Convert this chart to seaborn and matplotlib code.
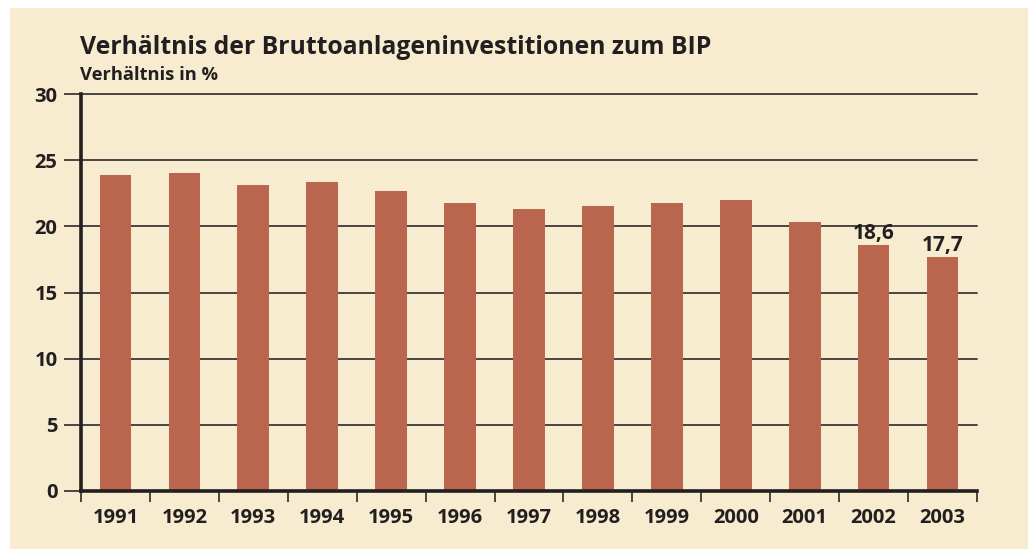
import numpy as np
import pandas as pd
import matplotlib.pyplot as plt
import seaborn as sns
from matplotlib.patches import Rectangle

# Chart data
years = ["1991", "1992", "1993", "1994", "1995", "1996", "1997",
         "1998", "1999", "2000", "2001", "2002", "2003"]
ratio = [23.9, 24.0, 23.1, 23.35, 22.7, 21.8, 21.3,
         21.5, 21.8, 22.0, 20.3, 18.6, 17.7]
labelled = {"2002": "18,6", "2003": "17,7"}
y_ticks = [0, 5, 10, 15, 20, 25, 30]

BG = "#F7ECCF"
BAR = "#BA654D"
INK = "#231F20"
GRID = "#4A4543"

sns.set_theme(style="white")
plt.rcParams['font.family'] = ['Open Sans', 'DejaVu Sans']

fig = plt.figure(figsize=(10.28, 5.49), dpi=100)
fig.patch.set_facecolor("white")
fig.patches.append(Rectangle((10 / 1028, 0), 1 - 10 / 1028, 1 - 8 / 549,
                             transform=fig.transFigure, facecolor=BG,
                             edgecolor="none", zorder=-10))

ax = fig.add_axes([81 / 1028, 1 - 491 / 549, (977 - 81) / 1028, (491 - 94) / 549])
ax.set_facecolor("none")

df = pd.DataFrame({"year": years, "ratio": ratio})
sns.barplot(data=df, x="year", y="ratio", color=BAR, width=0.46,
            saturation=1, linewidth=0, ax=ax, zorder=3)

ax.set_xlim(-0.5, len(years) - 0.5)
ax.set_ylim(0, 30)
ax.set_yticks(y_ticks)
for v in y_ticks[1:]:
    ax.axhline(v, color=GRID, lw=1.4, zorder=1, clip_on=False)

ax.set_xlabel("")
ax.set_ylabel("")
for s in ["top", "right"]:
    ax.spines[s].set_visible(False)
for s in ["left", "bottom"]:
    ax.spines[s].set_color(INK)
    ax.spines[s].set_linewidth(2.6)
    ax.spines[s].set_zorder(5)

# category boundary ticks below the axis
ax.set_xticks(np.arange(-0.5, len(years), 1.0), minor=True)
ax.tick_params(axis="x", which="minor", bottom=True, length=8, width=1.4,
               color=GRID, direction="out")
ax.tick_params(axis="x", which="major", bottom=False, length=0, pad=12)
ax.tick_params(axis="y", left=True, length=12, width=1.4, color=GRID,
               direction="out", pad=5)
for lab in ax.get_xticklabels() + ax.get_yticklabels():
    lab.set_fontweight("bold")
    lab.set_fontsize(14.5)
    lab.set_color(INK)

for i, (yr, val) in enumerate(zip(years, ratio)):
    if yr in labelled:
        ax.text(i, val + 0.05, labelled[yr], ha="center", va="bottom",
                fontsize=15, fontweight="bold", color=INK, zorder=6)

fig.text(80 / 1028, 1 - 48 / 549, "Verhältnis der Bruttoanlageninvestitionen zum BIP",
         ha="left", va="center", fontsize=17.8, fontweight="bold", color=INK)
fig.text(80 / 1028, 1 - 75 / 549, "Verhältnis in %",
         ha="left", va="center", fontsize=13.2, fontweight="bold", color=INK)

fig.savefig("out.png", dpi=100, facecolor=fig.get_facecolor())
